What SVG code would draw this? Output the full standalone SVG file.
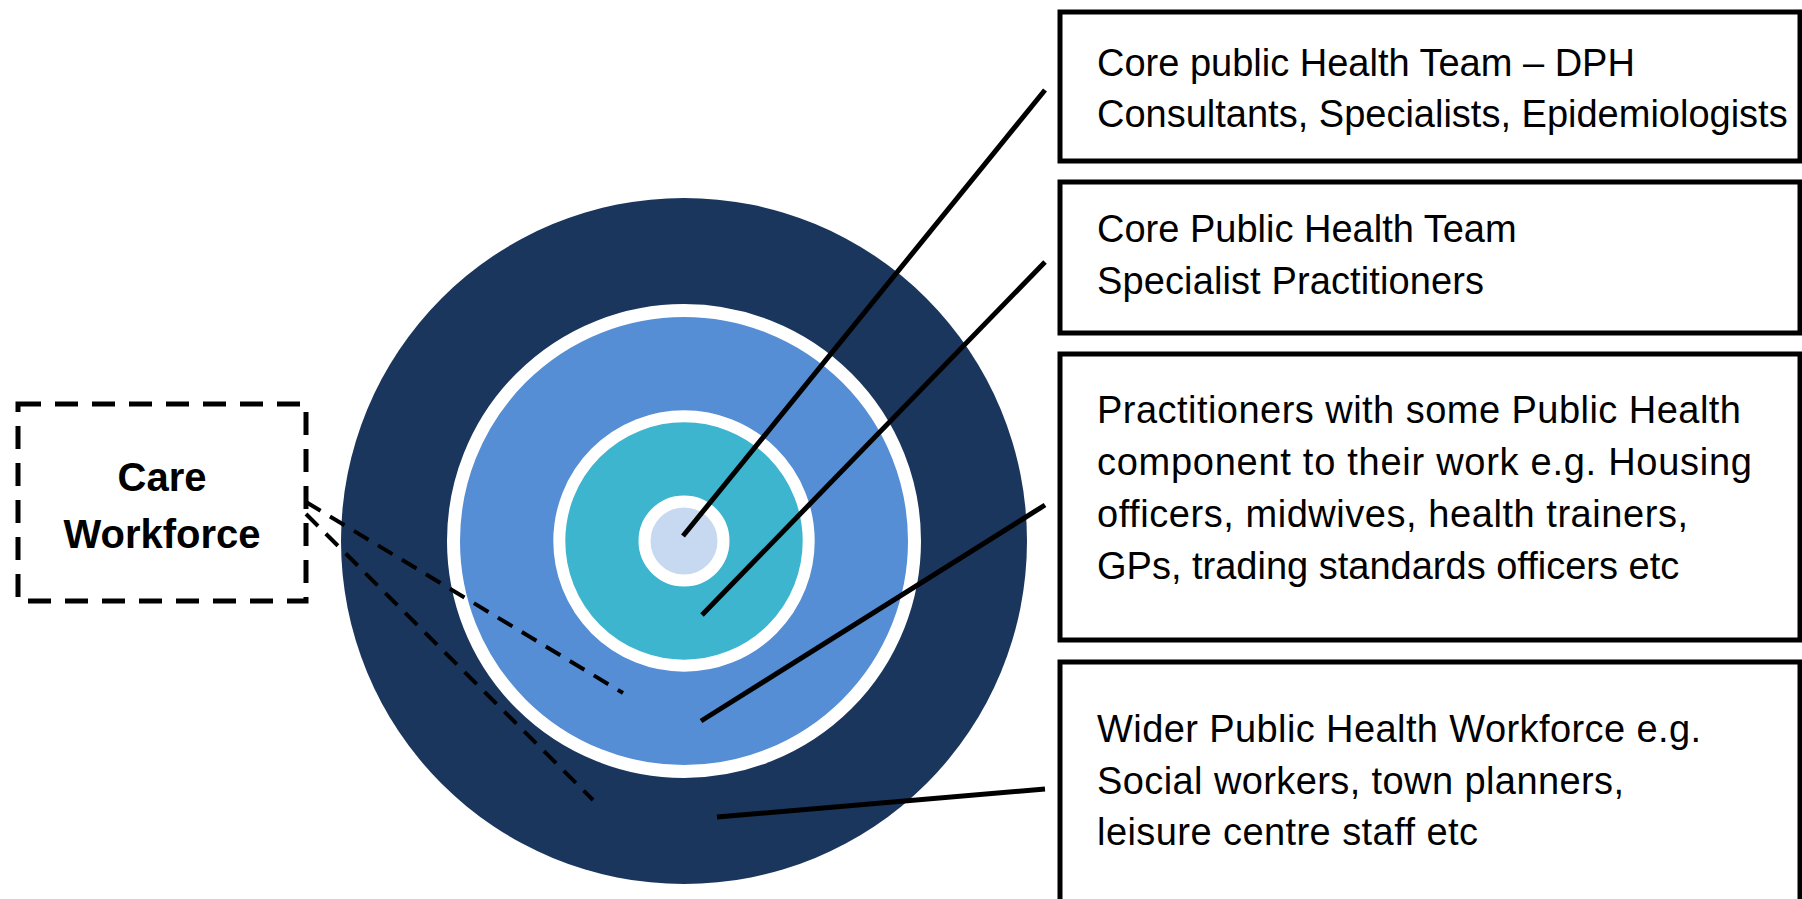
<svg xmlns="http://www.w3.org/2000/svg" width="1802" height="899" viewBox="0 0 1802 899">
<style>
.box{fill:#fff;stroke:#000;stroke-width:5}
.lbl{font-family:"Liberation Sans",Arial,sans-serif;font-size:38px;fill:#000}
.care{font-family:"Liberation Sans",Arial,sans-serif;font-size:40px;font-weight:bold;fill:#000;text-anchor:middle}
.ln{stroke:#000;stroke-width:5;fill:none}
.dl{stroke:#000;stroke-width:4;fill:none;stroke-dasharray:17 11}
</style>
<rect width="1802" height="899" fill="#fff"/>
<g id="rings">
<circle cx="684" cy="541" r="343" fill="#1a365d"/>
<circle cx="684" cy="541" r="230.5" fill="#558ed5" stroke="#fff" stroke-width="13"/>
<circle cx="684" cy="541" r="124.7" fill="#3db5ce" stroke="#fff" stroke-width="12"/>
<circle cx="684" cy="541" r="39.5" fill="#c6d9f1" stroke="#fff" stroke-width="12"/>
</g>
<g id="care-workforce">
<rect x="18" y="404" width="288" height="197" fill="none" stroke="#000" stroke-width="5" stroke-dasharray="23 14"/>
<text class="care" x="162" y="491">Care</text>
<text class="care" x="162" y="548">Workforce</text>
</g>
<g id="box1">
<rect class="box" x="1060" y="12" width="740" height="149"/>
<text class="lbl" x="1097" y="76">Core public Health Team – DPH</text>
<text class="lbl" x="1097" y="127">Consultants, Specialists, Epidemiologists</text>
</g>
<g id="box2">
<rect class="box" x="1060" y="182" width="740" height="151"/>
<text class="lbl" x="1097" y="242">Core Public Health Team</text>
<text class="lbl" x="1097" y="294" textLength="387">Specialist Practitioners</text>
</g>
<g id="box3">
<rect class="box" x="1060" y="354" width="740" height="286"/>
<text class="lbl" x="1097" y="423" textLength="644">Practitioners with some Public Health</text>
<text class="lbl" x="1097" y="475" textLength="655">component to their work e.g. Housing</text>
<text class="lbl" x="1097" y="527" textLength="591">officers, midwives, health trainers,</text>
<text class="lbl" x="1097" y="579">GPs, trading standards officers etc</text>
</g>
<g id="box4">
<rect class="box" x="1060" y="662" width="740" height="260"/>
<text class="lbl" x="1097" y="742" textLength="604">Wider Public Health Workforce e.g.</text>
<text class="lbl" x="1097" y="794" textLength="527">Social workers, town planners,</text>
<text class="lbl" x="1097" y="845" textLength="381">leisure centre staff etc</text>
</g>
<g id="connectors">
<line class="ln" x1="683" y1="536" x2="1045" y2="90"/>
<line class="ln" x1="702" y1="615" x2="1045" y2="262"/>
<line class="ln" x1="701" y1="721" x2="1045" y2="505"/>
<line class="ln" x1="717" y1="817" x2="1045" y2="789"/>
<line class="dl" x1="306" y1="502" x2="623" y2="693"/>
<line class="dl" x1="306" y1="514" x2="593" y2="800"/>
</g>
</svg>
